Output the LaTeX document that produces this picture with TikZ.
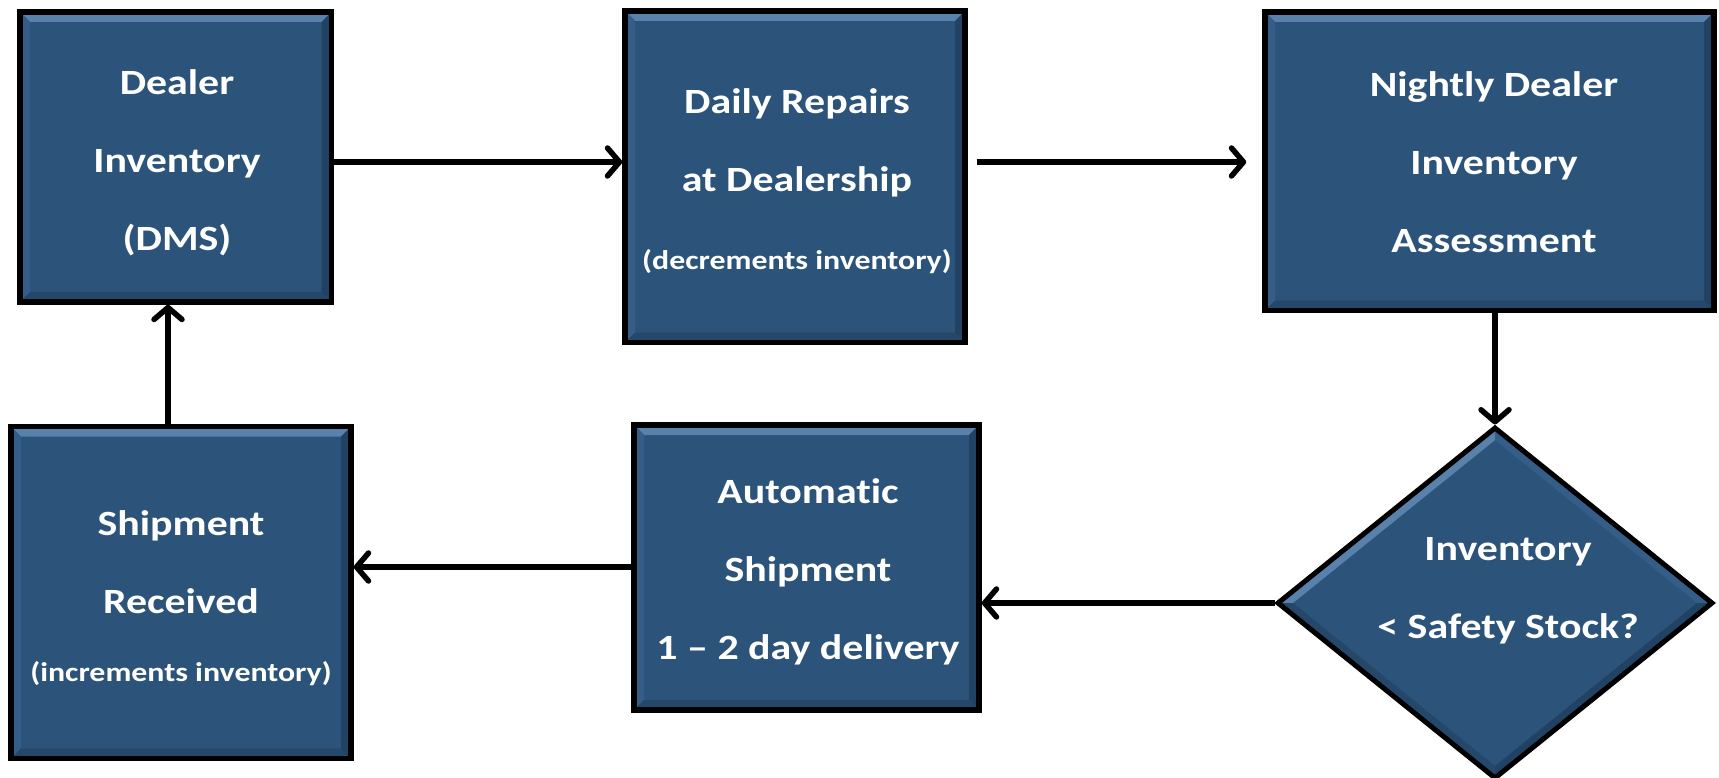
\documentclass[tikz,border=0pt]{standalone}
\usepackage{fontspec}
\setmainfont{Carlito}[FakeStretch=1.18,Ligatures=NoCommon]
\usetikzlibrary{arrows.meta,shapes.geometric}
\definecolor{boxfill}{RGB}{44,83,122}
\definecolor{bevtop}{RGB}{88,130,172}
\definecolor{bevleft}{RGB}{52,93,135}
\definecolor{bevright}{RGB}{34,66,99}
\definecolor{bevbot}{RGB}{37,71,106}
\begin{document}
\begin{tikzpicture}[x=1pt,y=-1pt,
  bevelrect/.style={path picture={
    \path (path picture bounding box.north west) coordinate (pNW)
          (path picture bounding box.north east) coordinate (pNE)
          (path picture bounding box.south west) coordinate (pSW)
          (path picture bounding box.south east) coordinate (pSE);
    \fill[bevtop] (pNW) -- (pNE) -- ([xshift=-10pt,yshift=-10pt]pNE) -- ([xshift=10pt,yshift=-10pt]pNW) -- cycle;
    \fill[bevleft] (pNW) -- ([xshift=10pt,yshift=-10pt]pNW) -- ([xshift=10pt,yshift=10pt]pSW) -- (pSW) -- cycle;
    \fill[bevright] (pNE) -- ([xshift=-10pt,yshift=-10pt]pNE) -- ([xshift=-10pt,yshift=10pt]pSE) -- (pSE) -- cycle;
    \fill[bevbot] (pSW) -- ([xshift=10pt,yshift=10pt]pSW) -- ([xshift=-10pt,yshift=10pt]pSE) -- (pSE) -- cycle;
  }},
  box/.style={rectangle, draw=black, line width=5.5pt, fill=boxfill, inner sep=0pt, bevelrect},
  decision/.style={diamond, draw=black, line width=5pt, fill=boxfill, inner sep=0pt,
    path picture={
    \path (path picture bounding box.north) coordinate (dN)
          (path picture bounding box.east) coordinate (dE)
          (path picture bounding box.south) coordinate (dS)
          (path picture bounding box.west) coordinate (dW);
    \fill[bevtop] (dW) -- (dN) -- ([yshift=-12pt]dN) -- ([xshift=15pt]dW) -- cycle;
    \fill[bevleft] (dN) -- (dE) -- ([xshift=-15pt]dE) -- ([yshift=-12pt]dN) -- cycle;
    \fill[bevright] (dE) -- (dS) -- ([yshift=12pt]dS) -- ([xshift=-15pt]dE) -- cycle;
    \fill[bevbot] (dS) -- (dW) -- ([xshift=15pt]dW) -- ([yshift=12pt]dS) -- cycle;
  }},
  txt/.style={text=white, align=center, inner sep=0pt, font=\bfseries\fontsize{35.5}{78}\selectfont},
  arr/.style={line width=5.5pt, -{Straight Barb[length=12pt,width=28pt,round]}}
]
\useasboundingbox (0,0) rectangle (1719,778);
\fill[white] (0,0) rectangle (1719,778);

% shapes
\node[box, minimum width=311.5pt, minimum height=290pt] (b1) at (175.75,157) {};
\node[box, minimum width=340pt, minimum height=331.5pt] (b2) at (795,176.75) {};
\node[box, minimum width=449pt, minimum height=298.5pt] (b3) at (1489.5,161.25) {};
\node[decision, minimum width=436pt, minimum height=352pt] (d) at (1495,603) {};
\node[box, minimum width=345pt, minimum height=285pt] (b5) at (806.5,567.5) {};
\node[box, minimum width=340pt, minimum height=332pt] (b6) at (181,592.5) {};

% texts
\node[txt] (t1) at (177,163) {Dealer\\Inventory\\(DMS)};
\node[txt] (t2) at (797,181) {Daily Repairs\\at Dealership\\{\fontsize{27}{78}\selectfont(decrements inventory)}};
\node[txt] (t3) at (1494,162.5) {Nightly Dealer\\Inventory\\Assessment};
\node[txt] (td) at (1508,591) {Inventory\\\textless{} Safety Stock?};
\node[txt] (t5) at (808,572) {Automatic\\Shipment\\1 – 2 day delivery};
\node[txt] (t6) at (181,598.5) {Shipment\\Received\\[-10pt]{\fontsize{27}{78}\selectfont(increments inventory)}};

% connectors
\coordinate (a1) at (0,162);
\coordinate (a2) at (0,162);
\coordinate (a4) at (0,567);
\coordinate (a5) at (168,0);
\draw[arr] (b1.east |- a1) -- (b2.west |- a1);
\draw[arr, shorten <=9pt, shorten >=16pt] (b2.east |- a2) -- (b3.west |- a2);
\draw[arr] (b3.south -| d.north) -- (d.north);
\draw[arr] (d.west) -- (d.west -| b5.east);
\draw[arr] (b5.west |- a4) -- (b6.east |- a4);
\draw[arr] (b6.north -| a5) -- (b1.south -| a5);
\end{tikzpicture}
\end{document}
